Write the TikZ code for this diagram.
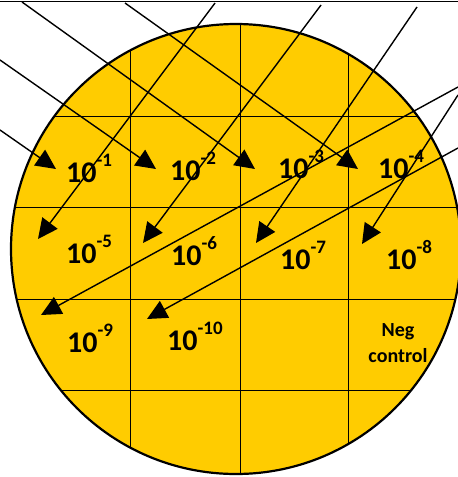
\documentclass[tikz,border=0pt]{standalone}
\usepackage{fontspec}
\setmainfont{Carlito}
\usetikzlibrary{arrows.meta}
\definecolor{plate}{HTML}{FFCC00}
\newcommand\myexp[1]{\raisebox{16pt}{\fontsize{19}{19}\selectfont #1}}
\begin{document}
\begin{tikzpicture}[x=1pt,y=-1pt,
  arr/.style={line width=1.4pt, -{Triangle[length=20pt,width=19pt]}},
  gridline/.style={line width=0.9pt},
  lab/.style={anchor=base west, inner sep=0pt, font=\bfseries\fontsize{30}{30}\selectfont},
  neglab/.style={anchor=base, inner sep=0pt, font=\bfseries\fontsize{20}{20}\selectfont},
]
\useasboundingbox (0,0) rectangle (458,477);
% plate
\fill[plate] (236,249) circle (225pt);
\begin{scope}
  \clip (236,249) circle (225pt);
  \foreach \x in {130,240,348} \draw[gridline] (\x,0) -- (\x,477);
  \foreach \y in {116,207,299,390} \draw[gridline] (0,\y) -- (458,\y);
\end{scope}
\draw[line width=2.2pt] (236,249) circle (225pt);
\draw[line width=1.5pt] (0,1.5) -- (458,1.5);
% labels
\node[lab] (l1) at (66,182) {10\myexp{-1}};
\node[lab] (l2) at (170,180) {10\myexp{-2}};
\node[lab] (l3) at (278,178) {10\myexp{-3}};
\node[lab] (l4) at (378,178) {10\myexp{-4}};
\node[lab] (l5) at (66,263) {10\myexp{-5}};
\node[lab] (l6) at (171,265) {10\myexp{-6}};
\node[lab] (l7) at (280,269) {10\myexp{-7}};
\node[lab] (l8) at (386,269) {10\myexp{-8}};
\node[lab] (l9) at (67,352) {10\myexp{-9}};
\node[lab] (l10) at (167,350) {10\myexp{-10}};
\node[neglab] (neg1) at (398,336) {Neg};
\node[neglab] (neg2) at (398,362) {control};
% arrow ends
\coordinate (s1) at (0,130);   \coordinate (t1) at (56,169);
\coordinate (s2) at (0,60);    \coordinate (t2) at (156,169);
\coordinate (s3) at (22,2);    \coordinate (t3) at (255,169);
\coordinate (s4) at (125,3);   \coordinate (t4) at (358,169);
\coordinate (s5) at (215,3);   \coordinate (t5) at (38,239);
\coordinate (s6) at (321,5);   \coordinate (t6) at (143,243);
\coordinate (s7) at (417,7);   \coordinate (t7) at (256,243);
\coordinate (s8) at (458,95);  \coordinate (t8) at (362,244);
\coordinate (s9) at (458,87);  \coordinate (t9) at (41,315);
\coordinate (s10) at (458,148); \coordinate (t10) at (147,319);
\foreach \i in {1,...,10} \draw[arr] (s\i) -- (t\i);
\end{tikzpicture}
\end{document}
